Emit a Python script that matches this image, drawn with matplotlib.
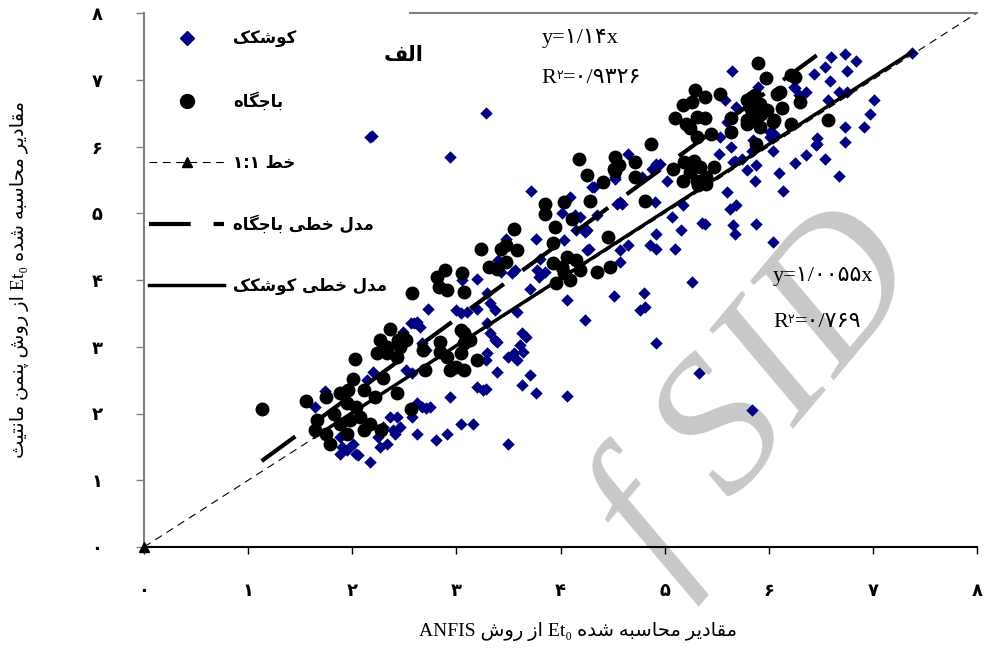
import re
import matplotlib
matplotlib.use('Agg')
import matplotlib.pyplot as plt
from matplotlib.lines import Line2D

# Et0 values (x: ANFIS, y: Penman-Monteith)
kosh_x = [1.74, 1.64, 1.90, 1.95, 2.04, 2.17, 1.88, 2.01, 1.88, 2.06,
          2.25, 2.33, 2.30, 2.39, 2.43, 2.36, 2.27, 2.41, 2.46,
          2.62, 2.57, 2.67, 2.75, 2.80, 2.91, 3.04, 3.16, 2.94,
          2.14, 2.20, 2.52, 2.57, 2.67, 2.71, 2.56, 2.62, 2.73, 2.49,
          3.00, 3.10, 3.20, 3.20, 3.28, 3.28, 3.29, 2.27, 2.71, 2.62,
          3.72, 4.32, 4.52, 4.57, 4.35, 4.19, 4.15, 4.25, 4.01, 3.76,
          4.03, 4.25, 4.57, 4.65, 4.57, 3.80, 3.77, 3.85, 3.79, 3.71,
          4.06, 4.24, 4.51, 3.48, 3.40, 3.43, 3.53, 3.56, 3.20, 3.05,
          3.29, 3.32, 3.37, 3.32, 3.37, 3.58, 3.63, 3.67, 3.61, 3.55,
          3.64, 2.59, 2.65, 4.76, 3.29, 3.04, 3.39, 3.50, 3.58, 3.39,
          3.26, 3.71, 3.63, 3.76, 4.06, 3.50, 4.92, 5.33, 5.84,
          5.65, 5.90, 4.65, 4.92, 4.88, 5.02, 5.58, 5.69, 5.60, 5.53,
          5.64, 5.52, 5.68, 5.74, 5.85, 5.84, 5.88, 5.87, 6.01, 6.04,
          5.60, 5.63, 5.69, 5.88, 5.66, 5.68, 5.39, 5.16, 5.18, 5.07,
          4.91, 4.92, 4.52, 4.30, 4.59, 4.78, 4.24,
          7.38, 6.73, 6.84, 6.60, 6.54, 6.75, 6.43, 6.59, 6.25, 6.36,
          6.29, 6.67, 6.75, 6.57, 7.01, 6.97, 6.73, 6.91, 6.73, 6.46,
          6.45, 6.36, 6.54, 6.25, 6.10, 6.14, 6.67, 6.04, 6.05,
          5.26, 4.80, 4.81, 5.36, 5.10, 4.86, 4.92, 6.46, 6.24, 4.09,
          4.14, 4.27, 4.54, 4.96, 5.07, 5.47, 6.01, 5.66, 5.79, 5.63,
          2.17, 2.19, 3.28, 2.94]
kosh_y = [2.33, 2.10, 1.50, 1.45, 1.40, 1.28, 1.65, 1.55, 1.40, 1.38,
          1.65, 1.55, 1.80, 1.75, 1.95, 1.95, 1.50, 1.70, 1.80,
          1.70, 1.95, 2.10, 2.10, 1.60, 1.70, 1.85, 1.85, 2.25,
          2.50, 2.62, 2.65, 2.60, 3.05, 2.95, 3.35, 3.37, 3.57, 3.22,
          3.55, 3.52, 3.57, 2.40, 2.37, 2.80, 3.35, 3.12, 2.08, 2.15,
          5.34, 5.39, 5.52, 5.17, 4.97, 4.95, 4.75, 4.75, 5.00, 4.62,
          4.60, 4.45, 4.45, 4.52, 4.27, 4.32, 4.15, 4.12, 4.05, 3.87,
          3.70, 3.40, 3.76, 4.62, 4.30, 4.12, 4.10, 4.15, 4.02, 4.00,
          3.80, 3.65, 3.55, 3.20, 3.10, 3.52, 3.20, 3.15, 3.02, 2.90,
          2.92, 3.35, 3.30, 3.55, 2.90, 3.50, 3.07, 2.85, 2.80, 2.62,
          2.35, 2.57, 2.43, 2.30, 2.26, 1.55, 3.05, 2.60, 2.05,
          7.13, 6.89, 5.89, 5.74, 5.67, 5.49, 6.69, 6.59, 6.37, 6.14,
          5.99, 5.89, 5.79, 5.82, 6.09, 5.94, 5.72, 5.49, 6.14, 5.94,
          5.32, 5.07, 5.12, 4.84, 4.82, 4.69, 4.84, 4.75, 5.12, 4.94,
          5.17, 4.69, 5.54, 5.39, 5.14, 5.54, 4.72,
          7.40, 7.38, 7.28, 7.34, 7.19, 7.13, 7.09, 6.98, 6.87, 6.82,
          6.77, 6.82, 6.82, 6.69, 6.69, 6.49, 6.29, 6.29, 6.07, 6.12,
          6.02, 5.87, 5.82, 5.76, 5.60, 5.34, 5.56, 4.57, 6.19,
          3.97, 3.80, 3.60, 4.86, 4.47, 4.52, 4.47, 6.04, 6.89, 5.24,
          4.97, 4.47, 5.14, 5.74, 5.67, 5.69, 6.22, 5.77, 5.65, 6.44,
          6.14, 6.16, 6.50, 5.84]

baj_x = [1.13, 1.56, 2.03, 2.01, 2.36, 2.27, 2.24, 2.44, 2.52, 2.33,
         2.43, 2.30, 2.11, 2.22, 2.43, 2.56, 2.28,
         1.75, 1.88, 1.96, 1.95, 2.04, 1.66, 1.64, 1.75, 1.79, 1.88,
         1.98, 2.07, 2.11, 2.17, 1.95, 1.82,
         2.68, 2.84, 2.91, 3.00, 3.07, 3.13, 3.20, 3.07, 2.94, 2.70,
         2.57, 2.81, 2.89, 2.83, 2.91, 3.05, 3.07, 3.24, 3.31, 3.39,
         3.43, 3.48, 3.58, 3.48, 3.55, 3.85, 3.85, 4.03, 4.11, 3.95, 3.93,
         3.93, 4.01, 4.06, 4.15, 4.19, 3.96, 4.09, 4.03,
         4.25, 4.41, 4.52, 4.28, 4.46, 4.48, 4.35,
         2.49, 2.33, 2.46, 3.04, 3.07, 2.84, 3.04,
         5.90, 5.97, 5.29, 5.39, 5.53, 5.18, 5.26, 5.10, 5.21, 5.31,
         5.39, 5.31, 5.45, 5.24, 5.64, 5.64,
         5.79, 5.87, 5.92, 5.84, 5.98, 5.79, 5.92, 6.04, 5.88, 6.08,
         4.87, 4.52, 4.56, 4.51, 4.72, 4.72, 4.81, 5.08, 5.19, 5.28,
         5.34, 5.24, 5.18, 5.31, 5.40, 5.47, 5.32, 5.40, 4.18,
         6.21, 6.25, 5.84, 5.82, 5.85, 5.93, 5.79, 6.11, 6.13, 6.30,
         6.05, 6.21, 6.57]
baj_y = [2.06, 2.19, 2.81, 2.51, 3.26, 3.10, 2.90, 3.10, 3.10, 2.90,
         2.85, 2.53, 2.35, 2.25, 2.30, 2.06, 1.76,
         2.25, 2.30, 2.35, 2.15, 2.10, 1.90, 1.75, 1.70, 1.55, 1.85,
         1.90, 1.95, 1.75, 1.85, 1.70, 2.00,
         2.95, 3.07, 2.85, 2.70, 3.20, 3.10, 2.80, 2.65, 2.65, 2.65,
         3.80, 4.05, 4.15, 3.90, 3.85, 4.10, 3.82, 4.47, 4.20, 4.17,
         4.47, 4.52, 4.45, 4.27, 4.77, 5.14, 4.99, 5.17, 4.92, 4.80, 4.55,
         4.25, 4.20, 4.35, 4.30, 4.15, 3.95, 4.00, 4.10,
         5.57, 5.47, 5.64, 5.19, 4.65, 4.20, 4.12,
         3.15, 3.00, 3.00, 3.25, 3.05, 2.92, 2.90,
         7.25, 7.02, 6.84, 6.74, 6.79, 6.62, 6.67, 6.42, 6.34, 6.44,
         6.42, 6.14, 6.19, 6.27, 6.42, 6.22,
         6.69, 6.77, 6.64, 6.52, 6.54, 6.34, 6.29, 6.37, 6.04, 6.79,
         6.03, 5.84, 5.72, 5.67, 5.77, 5.55, 5.19, 5.67, 5.77, 5.79,
         5.69, 5.62, 5.49, 5.49, 5.54, 5.69, 5.42, 5.44, 5.82,
         7.07, 7.04, 6.74, 6.59, 6.44, 6.49, 6.39, 6.82, 6.57, 6.67,
         6.39, 6.34, 6.39]

baj_slope = 1.14
kosh_slope = 1.0055
tick_vals = [0, 1, 2, 3, 4, 5, 6, 7, 8]
tick_labels = ['۰', '۱', '۲', '۳', '۴', '۵', '۶', '۷', '۸']

# --- minimal persian shaping (matplotlib has no RTL / joining support) ---
FORMS = {
    'ا': (0xFE8D, 2), 'آ': (0xFE81, 2), 'ب': (0xFE8F, 4), 'پ': (0xFB56, 4),
    'ت': (0xFE95, 4), 'ث': (0xFE99, 4), 'ج': (0xFE9D, 4), 'چ': (0xFB7A, 4),
    'ح': (0xFEA1, 4), 'خ': (0xFEA5, 4), 'د': (0xFEA9, 2), 'ذ': (0xFEAB, 2),
    'ر': (0xFEAD, 2), 'ز': (0xFEAF, 2), 'ژ': (0xFB8A, 2), 'س': (0xFEB1, 4),
    'ش': (0xFEB5, 4), 'ص': (0xFEB9, 4), 'ض': (0xFEBD, 4), 'ط': (0xFEC1, 4),
    'ظ': (0xFEC5, 4), 'ع': (0xFEC9, 4), 'غ': (0xFECD, 4), 'ف': (0xFED1, 4),
    'ق': (0xFED5, 4), 'ک': (0xFB8E, 4), 'گ': (0xFB92, 4), 'ل': (0xFEDD, 4),
    'م': (0xFEE1, 4), 'ن': (0xFEE5, 4), 'و': (0xFEED, 2), 'ه': (0xFEE9, 4),
    'ی': (0xFBFC, 4),
}


def shape(word):
    out = []
    for i, ch in enumerate(word):
        if ch not in FORMS:
            out.append(ch)
            continue
        base, n = FORMS[ch]
        prev = word[i - 1] if i > 0 else ''
        nxt = word[i + 1] if i + 1 < len(word) else ''
        jp = prev in FORMS and FORMS[prev][1] == 4
        jn = n == 4 and nxt in FORMS
        k = 3 if (jp and jn) else 1 if jp else 2 if jn else 0
        out.append(chr(base + k))
    return ''.join(out)


def fa(text):
    runs = re.findall(r'[\u0600-\u06ef]+|\s+|[^\s\u0600-\u06ef]+', text)
    vis = [shape(r)[::-1] if re.match(r'[\u0600-\u06ef]', r) else r for r in runs]
    return ''.join(vis[::-1])


serif = ['Liberation Serif', 'DejaVu Sans']
fig = plt.figure(figsize=(9.84, 6.52), dpi=100)
ax = fig.add_axes([144 / 984, 1 - 547 / 652, 833 / 984, 534 / 652])
ax.set_facecolor('none')

# grey watermark of the source scan, sits behind the plot
fig.text(0.772, 0.394, 'f SID', family='Liberation Serif', style='italic',
         fontsize=140, color='#c8c8c8', rotation=50, ha='center', va='center',
         rotation_mode='anchor', zorder=-1)

navy = '#000080'
ax.scatter(kosh_x, kosh_y, marker='D', s=40, color=navy, linewidths=0, zorder=2)
ax.scatter(baj_x, baj_y, marker='o', s=100, color='black', linewidths=0, zorder=3)

# 1:1 line
ax.plot([0, 8], [0, 8], ls=(0, (7, 5)), lw=0.8, color='black', zorder=1)
ax.plot([0], [0], marker='^', ms=7, color='black', clip_on=False, zorder=5)

bx = [min(baj_x), max(baj_x)]
ax.plot(bx, [baj_slope * v for v in bx], color='black', lw=3,
        ls=(0, (10, 5.5)), solid_capstyle='butt', zorder=4)
kx = [min(kosh_x), max(kosh_x)]
ax.plot(kx, [kosh_slope * v for v in kx], color='black', lw=2.5, zorder=4)

ax.set_xlim(0, 8)
ax.set_ylim(0, 8)
ax.set_xticks(tick_vals)
ax.set_yticks(tick_vals)
ax.set_xticklabels(tick_labels, fontsize=13, fontweight='bold')
ax.set_yticklabels(tick_labels, fontsize=13, fontweight='bold')
ax.tick_params(axis='y', direction='out', length=6, width=1, color='#808080', pad=24)
ax.tick_params(axis='x', direction='out', length=5, width=1, color='black', pad=20)

ax.spines['right'].set_visible(False)
ax.spines['left'].set_color('#808080')
ax.spines['left'].set_linewidth(1.5)
ax.spines['bottom'].set_linewidth(1.5)
ax.spines['top'].set_color('#808080')
ax.spines['top'].set_linewidth(1.5)
ax.spines['top'].set_bounds(2.55, 8)

ax.set_xlabel(fa('مقادیر محاسبه شده Et₀ از روش ANFIS'), family=serif,
              fontsize=14, va='center')
ax.xaxis.set_label_coords(0.521, -0.159)
ax.set_ylabel(fa('مقادیر محاسبه شده Et₀ از روش پنمن مانتیث'), family=serif,
              fontsize=14, va='center')
ax.yaxis.set_label_coords(-0.149, 0.5)

handles = [
    Line2D([], [], ls='none', marker='D', ms=7, color=navy),
    Line2D([], [], ls='none', marker='o', ms=10, color='black'),
    Line2D([], [], ls=(0, (7, 5)), lw=0.8, marker='^', ms=7, color='black'),
    Line2D([], [], ls=(0, (10, 5.5)), lw=3, color='black'),
    Line2D([], [], ls='-', lw=2.5, color='black'),
]
labels = [fa('کوشکک'), fa('باجگاه'), fa('خط ۱:۱'),
          fa('مدل خطی باجگاه'), fa('مدل خطی کوشکک')]
ax.legend(handles, labels, loc='upper left', bbox_to_anchor=(0, 0.977), frameon=False,
          prop={'weight': 'bold', 'size': 12}, handlelength=4.5, handletextpad=0.55,
          labelspacing=2.6, borderaxespad=0.1, borderpad=0.2)

ax.text(0.311, 0.921, fa('الف'), transform=ax.transAxes, fontsize=15,
        fontweight='bold', ha='center', va='center')

# regression equations
ax.text(0.477, 0.953, 'y=۱/۱۴x', transform=ax.transAxes, family=serif,
        fontsize=16, va='center')
r1 = ax.text(0.477, 0.878, 'R', transform=ax.transAxes, family=serif,
             fontsize=16, va='center')
s1 = ax.annotate('۲', xy=(1, 1), xycoords=r1, va='top', fontsize=9)
ax.annotate('=۰/۹۳۲۶', xy=(1, 0), xycoords=(s1, r1), va='bottom',
            family=serif, fontsize=16)

ax.text(0.755, 0.507, 'y=۱/۰۰۵۵x', transform=ax.transAxes, family=serif,
        fontsize=16, va='center')
r2 = ax.text(0.755, 0.42, 'R', transform=ax.transAxes, family=serif,
             fontsize=16, va='center')
s2 = ax.annotate('۲', xy=(1, 1), xycoords=r2, va='top', fontsize=9)
ax.annotate('=۰/۷۶۹', xy=(1, 0), xycoords=(s2, r2), va='bottom',
            family=serif, fontsize=16)

fig.savefig('out.png', dpi=100)
